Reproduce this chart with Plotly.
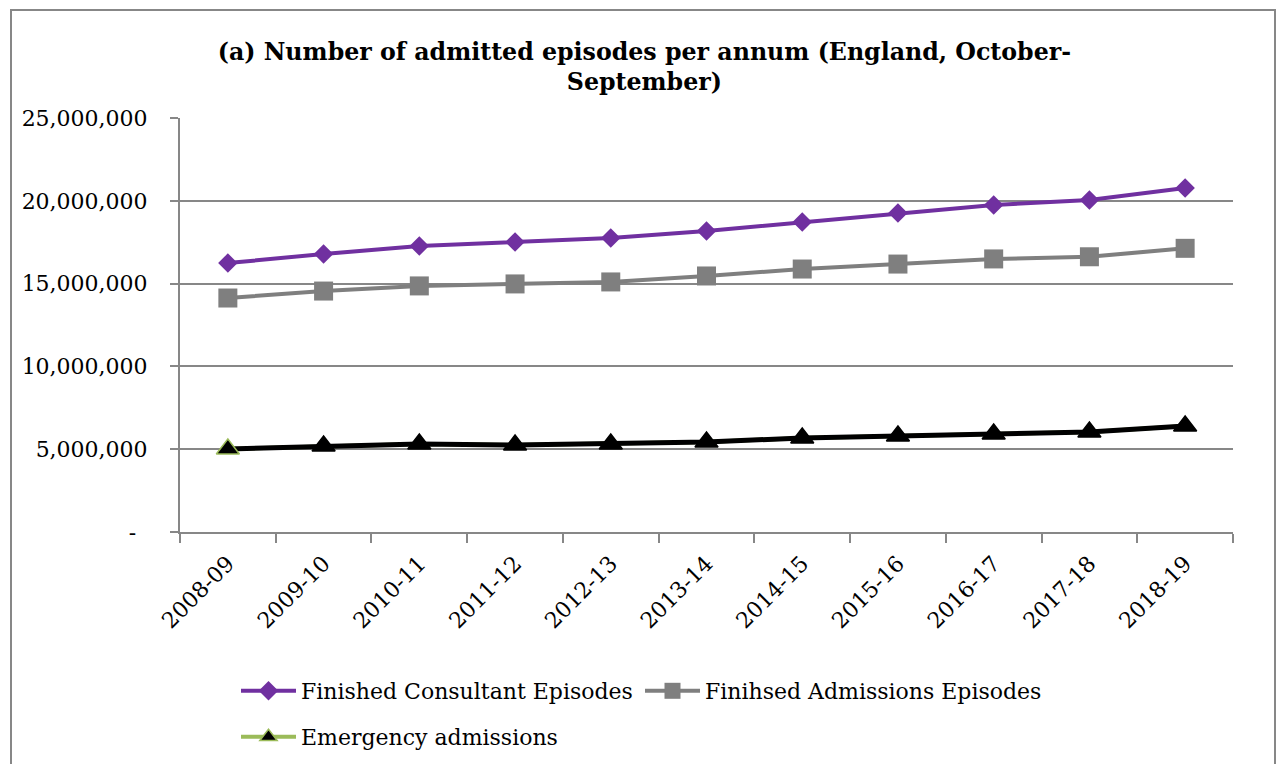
import plotly.graph_objects as go

# Financial years (October-September)
years = ["2008-09", "2009-10", "2010-11", "2011-12", "2012-13", "2013-14",
         "2014-15", "2015-16", "2016-17", "2017-18", "2018-19"]

consultant_episodes = [16240000, 16790000, 17270000, 17510000, 17750000, 18180000,
                       18720000, 19260000, 19750000, 20050000, 20770000]
admission_episodes = [14130000, 14550000, 14860000, 14980000, 15100000, 15460000,
                      15880000, 16180000, 16490000, 16620000, 17130000]
emergency_admissions = [5010000, 5190000, 5310000, 5250000, 5310000, 5430000,
                        5680000, 5800000, 5920000, 6040000, 6400000]

y_tick_values = [0, 5000000, 10000000, 15000000, 20000000, 25000000]
y_tick_labels = ["-\u00a0\u2009", "5,000,000", "10,000,000", "15,000,000",
                 "20,000,000", "25,000,000"]

PURPLE = "#7030A0"
GREY = "#7F7F7F"
GREEN = "#9BBB59"
AXIS_GREY = "#878787"
FONT = "DejaVu Serif"

fig = go.Figure()

fig.add_trace(go.Scatter(
    x=years, y=consultant_episodes, name="Finished Consultant Episodes",
    mode="lines+markers", legend="legend",
    line=dict(color=PURPLE, width=4),
    marker=dict(symbol="diamond", size=15, color=PURPLE),
))
fig.add_trace(go.Scatter(
    x=years, y=admission_episodes, name="Finihsed Admissions Episodes",
    mode="lines+markers", legend="legend",
    line=dict(color=GREY, width=4),
    marker=dict(symbol="square", size=19, color=GREY),
))
# Legend entry for emergency admissions (green series colour); covered by the black line below
fig.add_trace(go.Scatter(
    x=years, y=emergency_admissions, name="Emergency admissions",
    mode="lines+markers", legend="legend2",
    line=dict(color=GREEN, width=4),
    marker=dict(symbol="triangle-up", size=15, color="black",
                line=dict(color=GREEN, width=1.5)),
))
# Emergency admissions as drawn: black line, black triangles, first point green-edged
edge_colours = [GREEN] + ["black"] * (len(years) - 1)
fig.add_trace(go.Scatter(
    x=years, y=emergency_admissions, name="Emergency admissions",
    mode="lines+markers", showlegend=False,
    line=dict(color="black", width=5),
    marker=dict(symbol="triangle-up", size=20, color="black",
                line=dict(color=edge_colours, width=1.5)),
))

L, R, T, B = 180, 43, 118, 232
W, H = 1276, 764
pw, ph = W - L - R, H - T - B

def px_x(x):
    return (x - L) / pw

def px_y(y):
    return (H - B - y) / ph

# Outer chart border
fig.add_shape(type="rect", xref="paper", yref="paper",
              x0=px_x(11), x1=px_x(1275), y0=px_y(790), y1=px_y(10),
              line=dict(color=AXIS_GREY, width=2), fillcolor="rgba(0,0,0,0)")

legend_common = dict(
    orientation="h", xanchor="left", yanchor="top",
    font=dict(family=FONT, size=22, color="black"), itemwidth=55,
    bgcolor="rgba(0,0,0,0)",
)

fig.update_layout(
    width=W, height=H,
    margin=dict(l=L, r=R, t=T, b=B, autoexpand=False),
    paper_bgcolor="white", plot_bgcolor="white",
    font=dict(family=FONT, size=22, color="black"),
    title=dict(
        text="<b>(a) Number of admitted episodes per annum (England, October-<br>September)</b>",
        x=0.505, xanchor="center", y=0.922, yanchor="top",
        font=dict(family=FONT, size=23.7, color="black"),
    ),
    showlegend=True,
    legend=dict(x=px_x(236), y=px_y(670), entrywidth=334, **legend_common),
    legend2=dict(x=px_x(236), y=px_y(716), **legend_common),
)

fig.update_xaxes(
    type="category", range=[-0.5, len(years) - 0.5], automargin=False,
    tickson="boundaries", ticks="outside", ticklen=9,
    tickcolor=AXIS_GREY, tickwidth=2, showline=True, linecolor=AXIS_GREY, linewidth=2,
    showgrid=False, tickangle=-45, tickfont=dict(family=FONT, size=22),
    ticklabelstandoff=8,
)
fig.update_yaxes(
    range=[0, 25000000], tickvals=y_tick_values, ticktext=y_tick_labels,
    automargin=False,
    ticks="outside", ticklen=8, tickcolor=AXIS_GREY, tickwidth=2,
    showline=True, linecolor=AXIS_GREY, linewidth=2,
    showgrid=True, gridcolor=AXIS_GREY, gridwidth=2, zeroline=False,
    tickfont=dict(family=FONT, size=22), ticklabelstandoff=18,
)

fig.write_html("out.html")
